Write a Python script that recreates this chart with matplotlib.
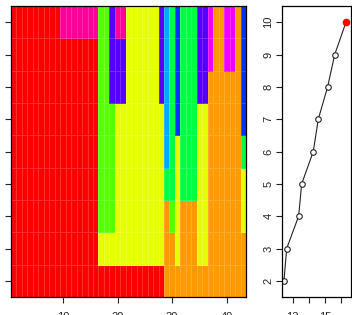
import numpy as np
import matplotlib
matplotlib.use("Agg")
import matplotlib.pyplot as plt
from matplotlib.colors import ListedColormap

plt.rcParams['font.family'] = ['Liberation Sans', 'DejaVu Sans']

# colores de cada cluster (1..10)
cluster_colors = ["#FF0000", "#FF9900", "#E6FF00", "#55FF00", "#00FF44",
                  "#00AAFF", "#0033FF", "#5500FF", "#EE00FF", "#FF0099"]

# asignacion de cada muestra (43) para k = 2..10
k2 = [1]*28 + [2]*15
k3 = [1]*16 + [3]*12 + [2]*2 + [3] + [2]*3 + [3]*2 + [2]*7
k4 = [1]*16 + [4]*3 + [3]*9 + [2] + [4] + [3] + [2]*3 + [3]*2 + [2]*6 + [3]
k5 = [1]*16 + [4]*3 + [3]*9 + [5]*2 + [3] + [5]*3 + [3]*2 + [2]*6 + [3]
k6 = [1]*16 + [4]*3 + [3]*9 + [6] + [5] + [3] + [5]*3 + [3]*2 + [2]*6 + [5]
k7 = [1]*16 + [4]*3 + [3]*9 + [6] + [5] + [7] + [5]*3 + [3]*2 + [2]*6 + [7]
k8 = [1]*16 + [4]*2 + [8]*3 + [3]*6 + [8] + [6] + [5] + [7] + [5]*3 + [8]*2 + [2]*6 + [7]
k9 = ([1]*16 + [4]*2 + [8]*3 + [3]*6 + [8] + [6] + [5] + [7] + [5]*3 + [8]*2
      + [9] + [2]*2 + [9]*2 + [2] + [7])
k10 = ([1]*9 + [10]*7 + [4]*2 + [8] + [10]*2 + [3]*6 + [8] + [6] + [5] + [7]
       + [5]*3 + [8]*2 + [9] + [2]*2 + [9]*2 + [2] + [7])

k_values = [2, 3, 4, 5, 6, 7, 8, 9, 10]
score = [12.46, 12.63, 13.37, 13.56, 14.28, 14.59, 15.17, 15.61, 16.31]

Z = np.array([k2, k3, k4, k5, k6, k7, k8, k9, k10])
n = Z.shape[1]

fig = plt.figure(figsize=(3.52, 3.15), dpi=100)

#-------------------- panel izquierdo ---------------------
ax1 = fig.add_axes([11/352, 1-297/315, 235/352, 291/315])
cmap = ListedColormap(cluster_colors)
xe = np.arange(n+1) + 0.5
ye = np.arange(len(k_values)+1) + 1.5
ax1.pcolormesh(xe, ye, Z, cmap=cmap, vmin=0.5, vmax=10.5,
               edgecolors=(1, 1, 1, 0.18), linewidth=0.4)
ax1.set_xlim(0.5, n+0.5)
ax1.set_ylim(1.5, 10.5)
ax1.set_xticks([10, 20, 30, 40])
ax1.set_yticks(k_values)
ax1.set_yticklabels([])
ax1.tick_params(direction='out', length=4, width=0.8, labelsize=8, pad=7, colors='#222222')
for s in ax1.spines.values():
    s.set_linewidth(0.9)

#-------------------- panel derecho -----------------------
ax2 = fig.add_axes([281.7/352, 1-297/315, 69.3/352, 291/315])
ax2.plot(score, k_values, '-', color='#222222', lw=0.8, zorder=1)
ax2.plot(score[:-1], k_values[:-1], 'o', mfc='white', mec='#222222',
         mew=0.8, ms=4, zorder=2)
ax2.plot(score[-1], k_values[-1], 'o', color='red', ms=4.5, zorder=3)
ax2.set_xlim(12.32, 16.62)
ax2.set_ylim(1.5, 10.5)
ax2.set_xticks([13, 14, 15, 16])
ax2.set_xticklabels(["13", "", "15", ""])
ax2.set_yticks(k_values)
ax2.set_yticklabels([str(k) for k in k_values], rotation=90, va='center')
ax2.tick_params(direction='out', length=4, width=0.8, labelsize=8, colors='#222222')
ax2.tick_params(axis='x', pad=7)
ax2.tick_params(axis='y', pad=2)
for s in ax2.spines.values():
    s.set_linewidth(0.9)

fig.savefig("out.png", dpi=100)
